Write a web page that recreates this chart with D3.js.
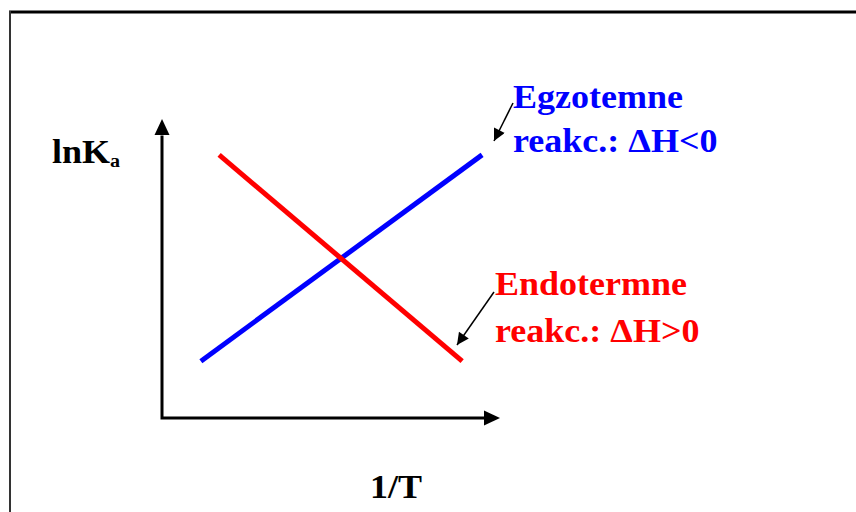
<!DOCTYPE html>
<html>
<head>
<meta charset="utf-8">
<script src="https://cdn.jsdelivr.net/npm/d3@7"></script>
<style>
  html, body { margin: 0; padding: 0; background: #fff; }
</style>
</head>
<body>
<div id="chart"></div>
<script>
// line endpoints, arbitrary units (1/T on x, lnKa on y)
var exoX = [11.5, 94.7];
var exoY = [19, 88];
var endoX = [16.9, 88.8];
var endoY = [88, 19];

var xLabel = "1/T";
var yLabel = "lnK";
var ySub = "a";
var exoLabel = ["Egzotemne", "reakc.: \u0394H<0"];
var endoLabel = ["Endotermne", "reakc.: \u0394H>0"];

var W = 856, H = 512;
var FONT = "'Liberation Serif', 'DejaVu Serif', serif";
var STRETCH = 1.06; // text in the original is a bit wide

var svg = d3.select('#chart').append('svg')
  .attr('width', W).attr('height', H)
  .style('font-family', FONT).style('font-weight', '700');

// frame (top + left only)
svg.append('line').attr('x1', 9).attr('y1', 12).attr('x2', W).attr('y2', 12)
  .attr('stroke', '#000').attr('stroke-width', 3);
svg.append('line').attr('x1', 10).attr('y1', 11).attr('x2', 10).attr('y2', H)
  .attr('stroke', '#333').attr('stroke-width', 2);

var x = d3.scaleLinear().domain([0, 100]).range([162, 500]);
var y = d3.scaleLinear().domain([0, 100]).range([418, 119]);

// axes with arrowheads
var ax = svg.append('g').attr('class', 'axes');
ax.append('path')
  .attr('d', 'M' + x(0) + ',' + y(94.5) + 'V' + y(0) + 'H' + x(95.5))
  .attr('fill', 'none').attr('stroke', '#000').attr('stroke-width', 3);
ax.append('path')
  .attr('d', 'M' + x(0) + ',' + y(100) + 'l-7.5,16h15z').attr('fill', '#000');
ax.append('path')
  .attr('d', 'M' + x(100) + ',' + y(0) + 'l-16,-7.5v15z').attr('fill', '#000');

var line = d3.line().x(function(d) { return x(d[0]); }).y(function(d) { return y(d[1]); });

svg.append('path').datum(d3.zip(exoX, exoY))
  .attr('d', line).attr('fill', 'none').attr('stroke', '#0000ff').attr('stroke-width', 5);
svg.append('path').datum(d3.zip(endoX, endoY))
  .attr('d', line).attr('fill', 'none').attr('stroke', '#ff0000').attr('stroke-width', 5);

// pointer arrows
svg.append('defs').append('marker')
  .attr('id', 'tip').attr('viewBox', '0 0 10 10').attr('refX', 10).attr('refY', 5)
  .attr('markerWidth', 14).attr('markerHeight', 12).attr('markerUnits', 'userSpaceOnUse')
  .attr('orient', 'auto')
  .append('path').attr('d', 'M0,0L10,5L0,10z').attr('fill', '#000');

svg.append('line').attr('x1', 513).attr('y1', 103).attr('x2', 494).attr('y2', 141)
  .attr('stroke', '#000').attr('stroke-width', 1.5).attr('marker-end', 'url(#tip)');
svg.append('line').attr('x1', 494).attr('y1', 292).attr('x2', 457).attr('y2', 345)
  .attr('stroke', '#000').attr('stroke-width', 1.5).attr('marker-end', 'url(#tip)');

var fs = 34;

function label(px, py) {
  return svg.append('g')
    .attr('transform', 'translate(' + px + ',' + py + ') scale(' + STRETCH + ',1)')
    .append('text').attr('font-size', fs);
}

var t1 = label(513, 108).attr('fill', '#0000ff');
exoLabel.forEach(function(s, i) {
  t1.append('tspan').attr('x', 0).attr('y', i * 44).text(s);
});
var t2 = label(495, 295).attr('fill', '#ff0000');
endoLabel.forEach(function(s, i) {
  t2.append('tspan').attr('x', 0).attr('y', i * 47).text(s);
});

label(370, 498).text(xLabel);

var yl = label(52, 163);
yl.append('tspan').text(yLabel);
yl.append('tspan').attr('font-size', 19).attr('dy', 4).text(ySub);
</script>
</body>
</html>
